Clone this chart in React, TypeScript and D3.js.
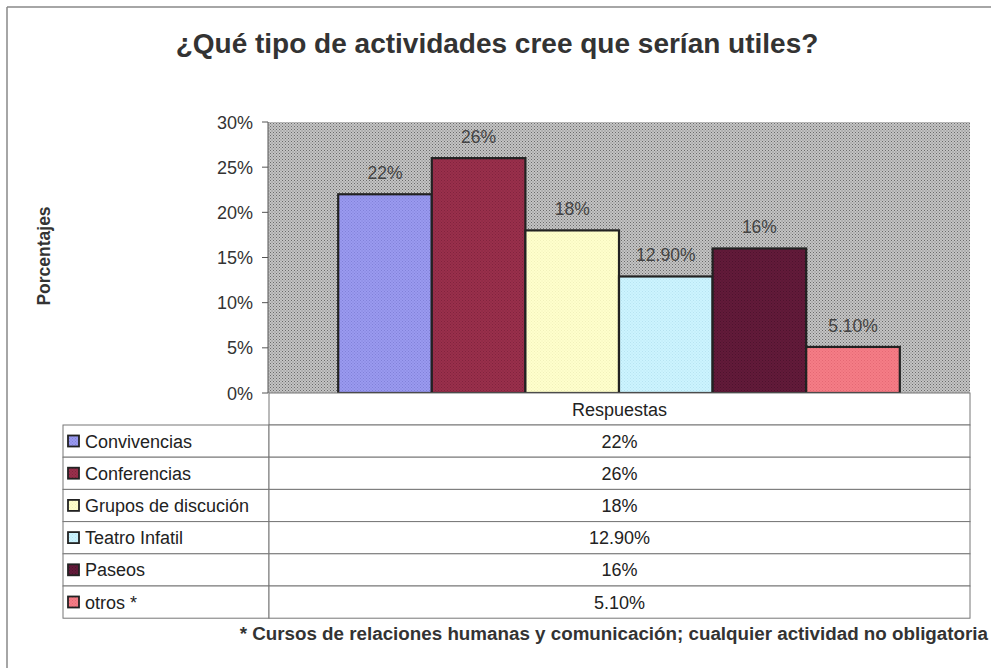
import React from "react";
import * as d3 from "d3";

const title = "¿Qué tipo de actividades cree que serían utiles?";
const yAxisLabel = "Porcentajes";
const categoryLabel = "Respuestas";
const seriesNames = ["Convivencias", "Conferencias", "Grupos de discución", "Teatro Infatil", "Paseos", "otros *"];
const seriesValues = [22, 26, 18, 12.9, 16, 5.1];
const valueLabels = ["22%", "26%", "18%", "12.90%", "16%", "5.10%"];
const seriesColors = ["#9a9af0", "#9a2f4c", "#ffffcc", "#ccf4ff", "#631a3a", "#f57d86"];
const dotColors = ["#6f6fc8", "#6e1c33", "#e8e8b0", "#a8d8e8", "#3e0f24", "#d95a68"];
const yTicks = [0, 5, 10, 15, 20, 25, 30];
const footnote = "* Cursos de relaciones humanas y comunicación; cualquier actividad no obligatoria";

export default function App() {
  const W = 991, H = 668;
  const plotL = 268, plotR = 970, plotT = 122, plotB = 393;
  const y = d3.scaleLinear().domain([0, 30]).range([plotB, plotT]);
  const gap = (plotR - plotL) * 0.1;
  const inner = d3.scaleBand().domain(seriesNames).range([plotL + gap, plotR - gap]);
  const tableL = 63, colX = 269, rowH = 32.2;
  const headT = plotB, headB = 425;
  const font = "Arial, 'Liberation Sans', sans-serif";
  return (
    <svg width={W} height={H} style={{ position: "absolute", left: 0, top: 0, background: "#fff" }} fontFamily={font}>
      <defs>
        <pattern id="bg" width="3" height="3" patternUnits="userSpaceOnUse">
          <rect width="3" height="3" fill="#c4c4c4" />
          <rect x="0" y="0" width="1" height="1" fill="#6a6a6a" />
          <rect x="1.5" y="1.5" width="1" height="1" fill="#7a7a7a" />
        </pattern>
        {seriesNames.map((s, i) => (
          <pattern key={s} id={`p${i}`} width="3" height="3" patternUnits="userSpaceOnUse">
            <rect width="3" height="3" fill={seriesColors[i]} />
            <rect x="0" y="0" width="1" height="1" fill={dotColors[i]} opacity={0.6} />
            <rect x="1.5" y="1.5" width="1" height="1" fill={dotColors[i]} opacity={0.6} />
          </pattern>
        ))}
      </defs>
      {/* outer frame */}
      <line x1={7} y1={7} x2={991} y2={7} stroke="#888" strokeWidth={1.5} />
      <line x1={7} y1={7} x2={7} y2={668} stroke="#888" strokeWidth={1.5} />
      <text x={497} y={53} textAnchor="middle" fontSize={28} fontWeight="bold" fill="#333">{title}</text>
      {/* plot area */}
      <rect x={plotL} y={plotT} width={plotR - plotL} height={plotB - plotT} fill="url(#bg)" />
      {seriesNames.map((s, i) => (
        <g key={s}>
          <rect x={inner(s)} y={y(seriesValues[i])} width={inner.bandwidth()} height={plotB - y(seriesValues[i])}
            fill={`url(#p${i})`} stroke="#222" strokeWidth={2.2} />
          <text x={(inner(s) as number) + inner.bandwidth() / 2} y={y(seriesValues[i]) - 15} textAnchor="middle"
            fontSize={17.5} fill="#444">{valueLabels[i]}</text>
        </g>
      ))}
      {/* y axis */}
      <line x1={plotL} y1={plotT} x2={plotL} y2={plotB} stroke="#555" strokeWidth={1} />
      {yTicks.map((t) => (
        <g key={t}>
          <line x1={plotL - 6} x2={plotL} y1={y(t)} y2={y(t)} stroke="#555" />
          <text x={253} y={y(t) + 6.5} textAnchor="end" fontSize={18} fill="#333">{t}%</text>
        </g>
      ))}
      <text transform={`translate(50,256) rotate(-90)`} textAnchor="middle" fontSize={17.5} fontWeight="bold" fill="#333">{yAxisLabel}</text>
      {/* table */}
      <rect x={colX} y={headT} width={plotR - colX} height={headB - headT} fill="#fff" stroke="#777" />
      <text x={(colX + plotR) / 2} y={415.5} textAnchor="middle" fontSize={18} fill="#222">{categoryLabel}</text>
      {seriesNames.map((s, i) => {
        const top = headB + i * rowH;
        return (
          <g key={s}>
            <rect x={tableL} y={top} width={colX - tableL} height={rowH} fill="#fff" stroke="#777" />
            <rect x={colX} y={top} width={plotR - colX} height={rowH} fill="#fff" stroke="#777" />
            <rect x={68} y={top + 10.5} width={11} height={11} fill={`url(#p${i})`} stroke="#222" strokeWidth={1.8} />
            <text x={85} y={top + rowH / 2 + 6.5} fontSize={18} fill="#222">{s}</text>
            <text x={(colX + plotR) / 2} y={top + rowH / 2 + 6.5} textAnchor="middle" fontSize={18} fill="#222">{valueLabels[i]}</text>
          </g>
        );
      })}
      <text x={988} y={640} textAnchor="end" fontSize={18.8} fontWeight="bold" fill="#333">{footnote}</text>
    </svg>
  );
}
